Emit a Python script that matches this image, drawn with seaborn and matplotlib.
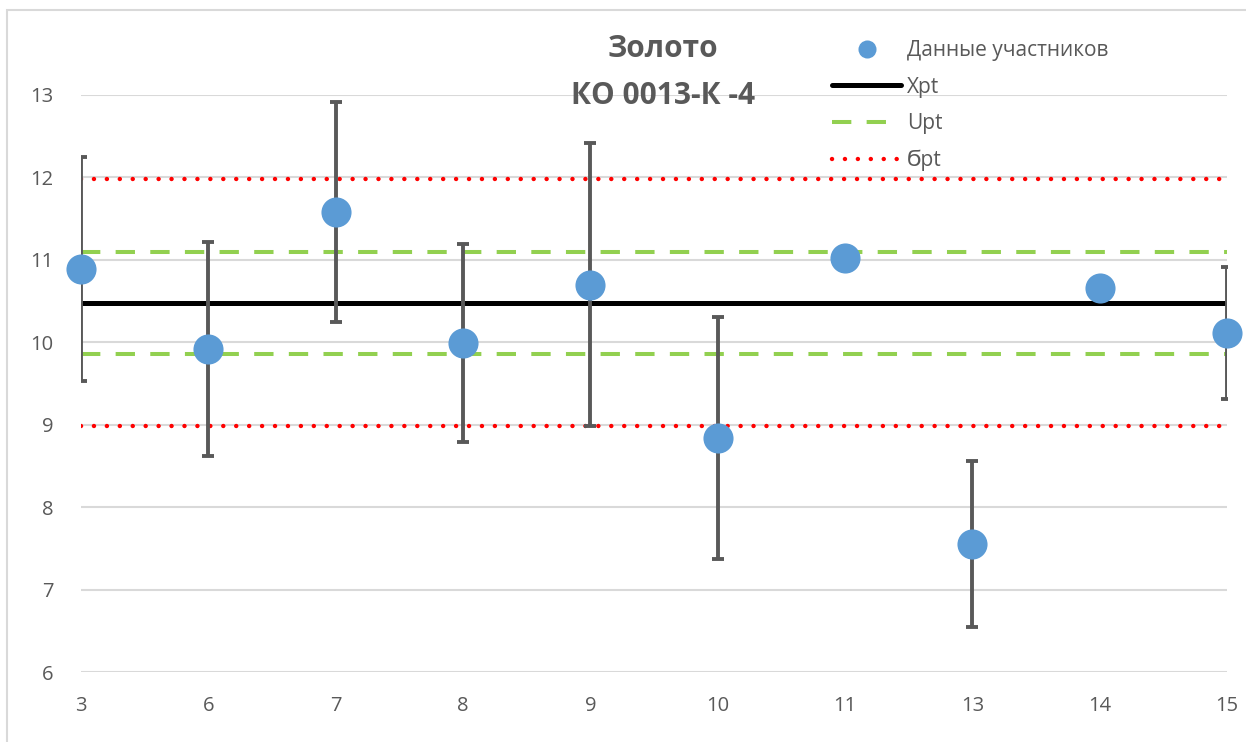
import numpy as np
import pandas as pd
import matplotlib
matplotlib.use("Agg")
import matplotlib.pyplot as plt
from matplotlib.lines import Line2D
from matplotlib.patches import Rectangle
import seaborn as sns

# Participant codes and reported results
participants = ["3", "6", "7", "8", "9", "10", "11", "13", "14", "15"]
results = [10.89, 9.92, 11.58, 9.99, 10.70, 8.84, 11.02, 7.55, 10.66, 10.11]
# Expanded uncertainty of each result (nan = not reported)
uncertainty = [1.36, 1.30, 1.33, 1.20, 1.72, 1.47, np.nan, 1.01, np.nan, 0.80]

# Assigned value and its bounds
x_pt = 10.48
u_pt = 0.62
sigma_pt = 1.50

title_lines = ["Золото", "КО 0013-К -4"]
y_ticks = [6, 7, 8, 9, 10, 11, 12, 13]

sns.set_theme(style="white")
plt.rcParams["font.family"] = ["Open Sans", "DejaVu Sans"]

text_grey = "#595959"
grid_grey = "#D9D9D9"
blue = "#5B9BD5"
green = "#92D050"
red = "#FF0000"

dotted = (0, (0.01, 2.9))
dashed = (0, (4.8, 3.8))

fig = plt.figure(figsize=(12.46, 7.42), dpi=100)
ax = fig.add_axes([81 / 1246, 1 - 672 / 742, (1227 - 81) / 1246, (672 - 95) / 742])

pos = np.arange(len(participants))
df = pd.DataFrame({"pos": pos, "result": results, "u": uncertainty})

# Reference lines across the full category range
ends = pd.DataFrame({"pos": [pos[0], pos[-1]]})
for level, color, lw, ls in [
    (x_pt + sigma_pt, red, 3.2, dotted),
    (x_pt - sigma_pt, red, 3.2, dotted),
    (x_pt + u_pt, green, 2.9, dashed),
    (x_pt - u_pt, green, 2.9, dashed),
    (x_pt, "black", 3.6, "-"),
]:
    d = ends.assign(v=level)
    sns.lineplot(data=d, x="pos", y="v", ax=ax, color=color, linewidth=lw,
                 linestyle=ls, dash_capstyle="round" if color == red else "butt",
                 legend=False, zorder=3)

# Error bars for participants that reported uncertainty
has_u = df.dropna(subset=["u"])
ax.errorbar(has_u["pos"], has_u["result"], yerr=has_u["u"], fmt="none",
            ecolor="#595959", elinewidth=2.8, capsize=4, capthick=2.8, zorder=4)

# Participant results
sns.scatterplot(data=df, x="pos", y="result", ax=ax, s=470, color=blue,
                linewidth=0, legend=False, zorder=5)
ax.collections[-1].set_clip_on(False)

ax.set_xlim(pos[0], pos[-1])
ax.set_ylim(6, 13)
ax.set_xticks(pos)
ax.set_xticklabels(participants)
ax.set_yticks(y_ticks)
ax.set_xlabel("")
ax.set_ylabel("")
ax.tick_params(axis="both", length=0, labelsize=14.5, colors=text_grey)
ax.tick_params(axis="x", pad=17)
ax.tick_params(axis="y", pad=20)
ax.grid(axis="y", color=grid_grey, linewidth=1.5, zorder=0)
ax.set_axisbelow(True)
for s in ax.spines.values():
    s.set_visible(False)
ax.patch.set_alpha(0)

# Title
fig.text(663 / 1246, 1 - 49 / 742, title_lines[0], ha="center", va="center",
         fontsize=21.5, fontweight="bold", color=text_grey)
fig.text(663 / 1246, 1 - 96 / 742, title_lines[1], ha="center", va="center",
         fontsize=21.5, fontweight="bold", color=text_grey)

# Legend
handles = [
    Line2D([], [], linestyle="none", marker="o", markersize=13,
           markerfacecolor=blue, markeredgewidth=0),
    Line2D([], [], color="black", linewidth=3.6),
    Line2D([], [], color=green, linewidth=2.9, linestyle=dashed),
    Line2D([], [], color=red, linewidth=3.2, linestyle=dotted,
           dash_capstyle="round"),
]
labels = ["Данные участников", "Xpt", "Upt", "Ϭpt"]
leg = fig.legend(handles, labels, loc="upper left",
                 bbox_to_anchor=(824 / 1246, 1 - 32 / 742),
                 frameon=False, fontsize=15, handlelength=3.3,
                 handletextpad=0.3, labelspacing=0.74, borderaxespad=0)
for t in leg.get_texts():
    t.set_color(text_grey)

# Chart border
fig.patches.append(Rectangle((7 / 1246, -0.1), 1.2, 1 - 10 / 742 + 0.1,
                             transform=fig.transFigure, fill=False,
                             edgecolor=grid_grey, linewidth=1.5))

fig.savefig("out.png", dpi=100)
